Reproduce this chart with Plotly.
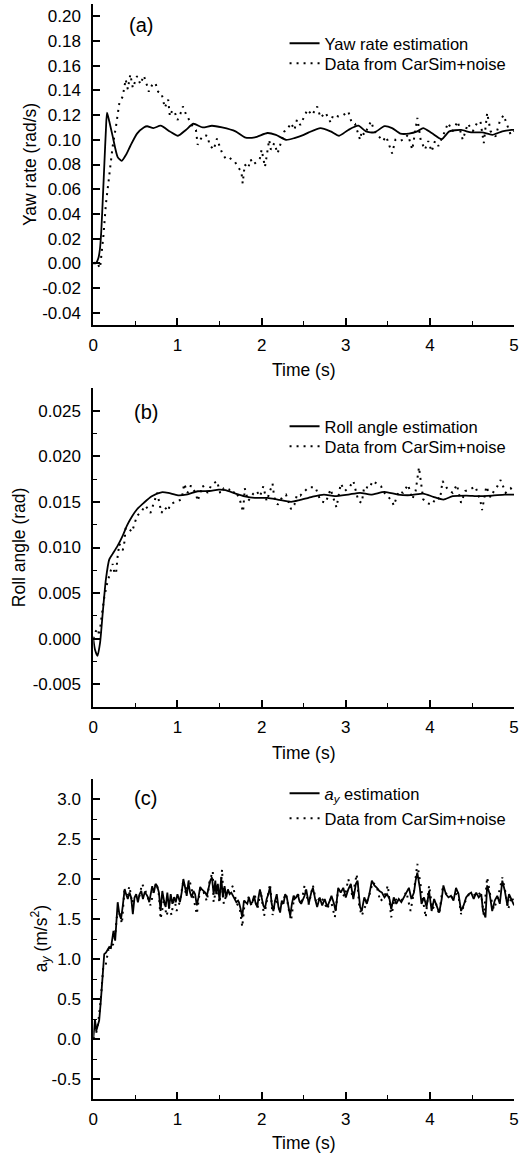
import plotly.graph_objects as go

# ---------------- data ----------------
# (a) yaw rate
yaw_est_t = [
    0.00, 0.03, 0.06, 0.08, 0.095, 0.115, 0.132, 0.15, 0.163, 0.19,
    0.23, 0.29, 0.338, 0.39, 0.44, 0.52, 0.60, 0.64, 0.715, 0.80,
    0.91, 1.006, 1.10, 1.19, 1.30, 1.41, 1.53, 1.69, 1.80, 1.92,
    2.07, 2.17, 2.29, 2.39, 2.50, 2.56, 2.70, 2.82, 2.92, 3.03,
    3.15, 3.24, 3.34, 3.46, 3.55, 3.65, 3.75, 3.85, 3.92, 4.02,
    4.14, 4.23, 4.37, 4.49, 4.62, 4.74, 4.86, 4.97, 5.00]
yaw_est = [
    0.000, 0.000, 0.004, 0.012, 0.026, 0.055, 0.081, 0.108, 0.122, 0.115,
    0.103, 0.086, 0.083, 0.088, 0.095, 0.105, 0.110, 0.111, 0.1095, 0.1114,
    0.1068, 0.1033, 0.108, 0.113, 0.110, 0.1114, 0.110, 0.1068, 0.102, 0.102,
    0.1055, 0.104, 0.100, 0.1014, 0.104, 0.106, 0.1095, 0.1068, 0.1033, 0.108,
    0.1114, 0.1068, 0.106, 0.111, 0.1095, 0.105, 0.105, 0.1068, 0.1095, 0.1055,
    0.1006, 0.1068, 0.108, 0.106, 0.106, 0.104, 0.1068, 0.108, 0.108]

yaw_noisy_t = [
    0.00, 0.04, 0.08, 0.10, 0.12, 0.15, 0.19, 0.23, 0.27, 0.31,
    0.35, 0.385, 0.41, 0.44, 0.47, 0.52, 0.56, 0.60, 0.63, 0.66,
    0.71, 0.74, 0.77, 0.81, 0.83, 0.85, 0.89, 0.91, 0.94, 0.97,
    1.00, 1.035, 1.065, 1.10, 1.14, 1.18, 1.22, 1.24, 1.28, 1.32,
    1.36, 1.38, 1.43, 1.47, 1.51, 1.53, 1.57, 1.61, 1.65, 1.68,
    1.72, 1.76, 1.775, 1.80, 1.84, 1.87, 1.90, 1.94, 1.98, 2.00,
    2.04, 2.06, 2.09, 2.11, 2.15, 2.19, 2.23, 2.27, 2.30, 2.35,
    2.39, 2.42, 2.46, 2.49, 2.545, 2.60, 2.66, 2.70, 2.76, 2.82,
    2.85, 2.91, 2.97, 3.03, 3.07, 3.11, 3.17, 3.19, 3.22, 3.26,
    3.30, 3.34, 3.40, 3.44, 3.48, 3.515, 3.55, 3.59, 3.63, 3.68,
    3.74, 3.79, 3.83, 3.85, 3.89, 3.94, 3.98, 4.02, 4.06, 4.10,
    4.16, 4.215, 4.27, 4.33, 4.39, 4.45, 4.51, 4.56, 4.60, 4.64,
    4.68, 4.72, 4.78, 4.83, 4.875, 4.92, 4.96, 5.00]
yaw_noisy = [
    0.000, 0.001, -0.004, 0.008, 0.022, 0.048, 0.070, 0.0945, 0.111, 0.130,
    0.135, 0.149, 0.141, 0.153, 0.142, 0.1516, 0.145, 0.152, 0.146, 0.139,
    0.146, 0.1455, 0.139, 0.138, 0.132, 0.126, 0.1326, 0.119, 0.124, 0.122,
    0.116, 0.121, 0.127, 0.121, 0.116, 0.111, 0.108, 0.096, 0.101, 0.104,
    0.103, 0.096, 0.092, 0.101, 0.093, 0.0895, 0.085, 0.086, 0.0837, 0.0825,
    0.078, 0.074, 0.0647, 0.080, 0.077, 0.084, 0.080, 0.082, 0.085, 0.092,
    0.078, 0.088, 0.100, 0.092, 0.0973, 0.089, 0.097, 0.1068, 0.108, 0.1136,
    0.108, 0.1163, 0.112, 0.116, 0.1245, 0.120, 0.127, 0.118, 0.122, 0.114,
    0.120, 0.119, 0.120, 0.123, 0.114, 0.113, 0.100, 0.107, 0.104, 0.1095,
    0.115, 0.107, 0.1027, 0.099, 0.1027, 0.096, 0.089, 0.100, 0.099, 0.100,
    0.104, 0.092, 0.1095, 0.1177, 0.100, 0.092, 0.099, 0.0905, 0.099, 0.095,
    0.104, 0.1136, 0.107, 0.115, 0.100, 0.113, 0.107, 0.1136, 0.115, 0.0973,
    0.1218, 0.107, 0.1027, 0.115, 0.120, 0.111, 0.104, 0.107]

# (b) roll angle
roll_est_t = [
    0.00, 0.02, 0.05, 0.08, 0.113, 0.15, 0.19, 0.23, 0.29, 0.35,
    0.40, 0.46, 0.52, 0.60, 0.695, 0.81, 0.89, 1.006, 1.12, 1.24,
    1.38, 1.49, 1.57, 1.69, 1.80, 1.92, 2.07, 2.19, 2.35, 2.45,
    2.60, 2.74, 2.87, 3.03, 3.17, 3.30, 3.46, 3.62, 3.77, 3.92,
    4.04, 4.16, 4.27, 4.43, 4.58, 4.74, 4.89, 5.00]
roll_est = [
    0.0, -0.0012, -0.0019, -0.0005, 0.0029, 0.0065, 0.0087, 0.0093, 0.0102, 0.0113,
    0.0124, 0.0134, 0.0142, 0.0149, 0.01562, 0.01606, 0.0160, 0.01573, 0.01584, 0.01617,
    0.0162, 0.01635, 0.0163, 0.01592, 0.01562, 0.01545, 0.01545, 0.01526, 0.0150, 0.01519,
    0.01556, 0.01581, 0.01563, 0.01581, 0.0160, 0.0158, 0.0161, 0.0158, 0.01574, 0.01592,
    0.01556, 0.01526, 0.01563, 0.0157, 0.01563, 0.0157, 0.0158, 0.0158]

roll_noisy_t = [
    0.00, 0.03, 0.055, 0.07, 0.10, 0.13, 0.163, 0.19, 0.23, 0.25,
    0.27, 0.29, 0.31, 0.35, 0.37, 0.385, 0.43, 0.46, 0.48, 0.52,
    0.56, 0.62, 0.68, 0.72, 0.76, 0.81, 0.85, 0.89, 0.91, 0.95,
    0.99, 1.05, 1.08, 1.12, 1.16, 1.22, 1.24, 1.30, 1.36, 1.40,
    1.44, 1.47, 1.51, 1.55, 1.61, 1.65, 1.69, 1.74, 1.78, 1.80,
    1.84, 1.90, 1.94, 1.98, 2.02, 2.06, 2.10, 2.13, 2.15, 2.19,
    2.25, 2.29, 2.35, 2.39, 2.42, 2.46, 2.49, 2.56, 2.64, 2.70,
    2.76, 2.82, 2.85, 2.89, 2.94, 2.99, 3.05, 3.09, 3.15, 3.19,
    3.22, 3.28, 3.32, 3.38, 3.42, 3.46, 3.50, 3.55, 3.57, 3.63,
    3.68, 3.74, 3.79, 3.83, 3.87, 3.90, 3.92, 3.96, 4.02, 4.08,
    4.12, 4.15, 4.21, 4.27, 4.32, 4.37, 4.42, 4.48, 4.54, 4.60,
    4.62, 4.67, 4.72, 4.76, 4.80, 4.84, 4.90, 4.96, 5.00]
roll_noisy = [
    0.0000, 0.0008, 0.0011, 0.0003, 0.0025, 0.0045, 0.0060, 0.0069, 0.0082, 0.0073,
    0.0071, 0.0091, 0.0104, 0.0097, 0.0106, 0.0122, 0.0120, 0.0117, 0.0124, 0.0135,
    0.0138, 0.0146, 0.0138, 0.0149, 0.0160, 0.0138, 0.0144, 0.0140, 0.0147, 0.0149,
    0.0150, 0.0153, 0.0170, 0.0160, 0.0168, 0.0159, 0.0151, 0.0168, 0.0160, 0.0168,
    0.0171, 0.0173, 0.0159, 0.0165, 0.0164, 0.0159, 0.0162, 0.0153, 0.0139, 0.0165,
    0.0151, 0.0159, 0.0162, 0.0156, 0.0167, 0.0151, 0.0162, 0.0170, 0.0155, 0.0147,
    0.0156, 0.0158, 0.0142, 0.0147, 0.0158, 0.0157, 0.0160, 0.0166, 0.0166, 0.0151,
    0.0149, 0.0164, 0.0155, 0.0144, 0.0170, 0.0162, 0.0167, 0.0173, 0.0151, 0.0149,
    0.0167, 0.0165, 0.0173, 0.0169, 0.0167, 0.0160, 0.0156, 0.0151, 0.0146, 0.0162,
    0.0160, 0.0169, 0.0153, 0.0162, 0.0188, 0.0170, 0.0153, 0.0149, 0.0147, 0.0155,
    0.0153, 0.0173, 0.0164, 0.0160, 0.0169, 0.0149, 0.0162, 0.0164, 0.0167, 0.0151,
    0.0141, 0.0167, 0.0155, 0.0162, 0.0167, 0.0174, 0.0160, 0.0165, 0.0160]

# (c) lateral acceleration
ay_est_t = [
    0.00, 0.02, 0.035, 0.054, 0.07, 0.09, 0.11, 0.13, 0.15, 0.17,
    0.19, 0.21, 0.23, 0.24, 0.26, 0.28, 0.29, 0.31, 0.33, 0.35,
    0.373, 0.39, 0.41, 0.43, 0.45, 0.47, 0.49, 0.51, 0.53, 0.55,
    0.57, 0.59, 0.61, 0.63, 0.65, 0.665, 0.685, 0.70, 0.72, 0.74,
    0.76, 0.78, 0.80, 0.82, 0.84, 0.86, 0.88, 0.90, 0.92, 0.94,
    0.96, 0.98, 1.00, 1.02, 1.03, 1.05, 1.07, 1.09, 1.11, 1.13,
    1.15, 1.17, 1.19, 1.21, 1.23, 1.25, 1.27, 1.29, 1.31, 1.33,
    1.35, 1.37, 1.39, 1.41, 1.43, 1.45, 1.46, 1.48, 1.50, 1.52,
    1.54, 1.56, 1.58, 1.60, 1.62, 1.64, 1.66, 1.68, 1.70, 1.72,
    1.73, 1.75, 1.77, 1.79, 1.81, 1.83, 1.85, 1.87, 1.89, 1.91,
    1.93, 1.95, 1.96, 1.98, 2.00, 2.02, 2.04, 2.06, 2.08, 2.10,
    2.12, 2.14, 2.16, 2.18, 2.20, 2.22, 2.24, 2.26, 2.28, 2.30,
    2.32, 2.34, 2.36, 2.38, 2.39, 2.41, 2.43, 2.45, 2.47, 2.51,
    2.53, 2.56, 2.59, 2.61, 2.64, 2.66, 2.69, 2.72, 2.75, 2.78,
    2.81, 2.83, 2.86, 2.88, 2.91, 2.94, 2.97, 3.00, 3.03, 3.06,
    3.09, 3.12, 3.14, 3.17, 3.19, 3.22, 3.25, 3.28, 3.31, 3.34,
    3.37, 3.40, 3.43, 3.46, 3.49, 3.52, 3.54, 3.57, 3.60, 3.63,
    3.66, 3.69, 3.72, 3.75, 3.78, 3.81, 3.83, 3.85, 3.88, 3.90,
    3.93, 3.96, 3.99, 4.02, 4.05, 4.08, 4.11, 4.14, 4.16, 4.19,
    4.22, 4.25, 4.28, 4.31, 4.34, 4.37, 4.40, 4.43, 4.46, 4.49,
    4.52, 4.55, 4.58, 4.61, 4.63, 4.66, 4.68, 4.71, 4.74, 4.77,
    4.80, 4.83, 4.86, 4.89, 4.92, 4.94, 4.97, 5.00]
ay_est = [
    0.00, 0.25, 0.10, 0.19, 0.23, 0.48, 0.77, 1.06, 1.08, 1.125,
    1.15, 1.14, 1.25, 1.35, 1.23, 1.50, 1.71, 1.56, 1.50, 1.66,
    1.875, 1.81, 1.75, 1.83, 1.77, 1.56, 1.77, 1.81, 1.71, 1.81,
    1.85, 1.75, 1.83, 1.81, 1.77, 1.71, 1.83, 1.91, 1.83, 1.94,
    1.91, 1.83, 1.60, 1.85, 1.73, 1.65, 1.83, 1.63, 1.81, 1.69,
    1.77, 1.71, 1.81, 1.73, 1.71, 1.83, 2.00, 1.90, 1.79, 1.96,
    1.83, 1.77, 1.85, 1.81, 1.67, 1.77, 1.90, 1.87, 1.85, 1.83,
    1.79, 1.90, 1.98, 2.02, 1.81, 1.98, 1.81, 1.94, 1.73, 2.02,
    1.77, 1.91, 1.77, 1.87, 1.81, 1.83, 1.79, 1.75, 1.71, 1.73,
    1.71, 1.63, 1.52, 1.73, 1.71, 1.69, 1.77, 1.69, 1.71, 1.79,
    1.69, 1.65, 1.75, 1.87, 1.77, 1.67, 1.63, 1.75, 1.81, 1.90,
    1.69, 1.60, 1.73, 1.81, 1.65, 1.58, 1.73, 1.69, 1.81, 1.77,
    1.65, 1.54, 1.69, 1.79, 1.75, 1.77, 1.81, 1.72, 1.69, 1.79,
    1.87, 1.69, 1.83, 1.89, 1.73, 1.65, 1.77, 1.67, 1.75, 1.65,
    1.73, 1.79, 1.69, 1.60, 1.89, 1.83, 1.89, 1.77, 1.87, 1.94,
    1.75, 1.94, 1.98, 1.65, 1.60, 1.77, 1.69, 1.81, 1.98, 1.92,
    1.89, 1.85, 1.83, 1.77, 1.81, 1.75, 1.62, 1.77, 1.69, 1.75,
    1.71, 1.77, 1.83, 1.89, 1.75, 1.83, 1.98, 2.08, 1.89, 1.69,
    1.77, 1.65, 1.85, 1.60, 1.75, 1.67, 1.58, 1.75, 1.92, 1.81,
    1.77, 1.79, 1.73, 1.89, 1.81, 1.60, 1.67, 1.77, 1.81, 1.83,
    1.75, 1.83, 1.77, 1.81, 1.60, 1.52, 1.92, 1.81, 1.60, 1.73,
    1.79, 1.69, 1.98, 1.85, 1.67, 1.81, 1.73, 1.67]

ay_noisy_t = [
    0.00, 0.03, 0.06, 0.09, 0.12, 0.15, 0.18, 0.21, 0.25, 0.28,
    0.31, 0.34, 0.37, 0.40, 0.43, 0.46, 0.50, 0.54, 0.58, 0.62,
    0.65, 0.68, 0.72, 0.75, 0.78, 0.80, 0.84, 0.87, 0.90, 0.93,
    0.96, 0.99, 1.03, 1.07, 1.10, 1.14, 1.18, 1.23, 1.27, 1.31,
    1.35, 1.38, 1.42, 1.43, 1.47, 1.50, 1.53, 1.55, 1.58, 1.62,
    1.66, 1.70, 1.74, 1.77, 1.80, 1.84, 1.88, 1.92, 1.95, 1.99,
    2.03, 2.07, 2.10, 2.13, 2.17, 2.21, 2.25, 2.29, 2.32, 2.35,
    2.39, 2.43, 2.47, 2.51, 2.56, 2.61, 2.65, 2.70, 2.74, 2.78,
    2.82, 2.87, 2.91, 2.95, 2.99, 3.03, 3.08, 3.13, 3.16, 3.19,
    3.24, 3.28, 3.32, 3.37, 3.41, 3.46, 3.50, 3.54, 3.58, 3.62,
    3.67, 3.72, 3.77, 3.81, 3.85, 3.88, 3.92, 3.95, 3.99, 4.03,
    4.07, 4.11, 4.15, 4.19, 4.24, 4.29, 4.33, 4.37, 4.41, 4.46,
    4.51, 4.56, 4.61, 4.64, 4.68, 4.72, 4.76, 4.81, 4.86, 4.90,
    4.93, 4.97, 5.00]
ay_noisy = [
    0.00, 0.05, 0.22, 0.50, 0.92, 0.94, 1.12, 1.16, 1.20, 1.52,
    1.58, 1.44, 1.86, 1.80, 1.91, 1.70, 1.79, 1.75, 1.94, 1.85,
    1.76, 1.67, 1.86, 1.95, 1.80, 1.50, 1.74, 1.54, 1.65, 1.55,
    1.78, 1.60, 1.72, 1.98, 1.82, 2.00, 1.82, 1.56, 1.88, 1.84,
    1.72, 1.96, 2.10, 1.71, 1.93, 1.70, 2.12, 1.69, 1.80, 1.83,
    1.92, 1.70, 1.64, 1.40, 1.72, 1.78, 1.67, 1.80, 1.63, 1.85,
    1.54, 1.78, 1.94, 1.55, 1.76, 1.62, 1.72, 1.82, 1.63, 1.48,
    1.80, 1.82, 1.68, 1.92, 1.68, 1.92, 1.70, 1.78, 1.72, 1.62,
    1.75, 1.52, 1.87, 1.82, 1.78, 2.00, 1.78, 2.06, 1.66, 1.54,
    1.70, 1.80, 1.96, 1.90, 1.72, 1.78, 1.92, 1.52, 1.76, 1.72,
    1.74, 1.84, 1.60, 1.84, 2.19, 1.96, 1.72, 1.52, 1.92, 1.62,
    1.70, 1.56, 1.88, 1.82, 1.78, 1.76, 1.86, 1.56, 1.70, 1.80,
    1.78, 1.84, 1.80, 1.55, 2.02, 1.78, 1.62, 1.78, 2.02, 1.82,
    1.62, 1.78, 1.70]

# tick values / labels
x_ticks = [0, 1, 2, 3, 4, 5]
yaw_ticks = [-0.04, -0.02, 0.00, 0.02, 0.04, 0.06, 0.08, 0.10, 0.12, 0.14, 0.16, 0.18, 0.20]
roll_ticks = [-0.005, 0.000, 0.005, 0.010, 0.015, 0.020, 0.025]
roll_minor = [-0.0075, -0.0025, 0.0025, 0.0075, 0.0125, 0.0175, 0.0225, 0.0275]
ay_ticks = [-0.5, 0.0, 0.5, 1.0, 1.5, 2.0, 2.5, 3.0]
ay_minor = [-0.75, -0.25, 0.25, 0.75, 1.25, 1.75, 2.25, 2.75, 3.25]

yaw_labels = [f"{v:.2f}" for v in yaw_ticks]
roll_labels = [f"{v:.3f}" for v in roll_ticks]
ay_labels = [f"{v:.1f}" for v in ay_ticks]

# ---------------- layout geometry (pixels) ----------------
W, H = 524, 1155
X0, X1 = 90, 519
panels = [  # (top, bottom) pixel rows of each plot area
    (4, 325),
    (388, 707),
    (779, 1099),
]

FONT = "Liberation Sans, Arial, Helvetica, sans-serif"


def px_x(p):
    return p / W


def px_y(p):
    return 1 - p / H


fig = go.Figure()

est_line = dict(color="black", width=1.8)
dot_line = dict(color="black", width=2, dash="2px,5px")

# panel (a)
fig.add_trace(go.Scatter(x=yaw_noisy_t, y=yaw_noisy, mode="lines", line=dot_line,
                         name="Data from CarSim+noise", legend="legend2",
                         xaxis="x", yaxis="y"))
fig.add_trace(go.Scatter(x=yaw_est_t, y=yaw_est, mode="lines",
                         line=dict(est_line, shape="spline", smoothing=0.6),
                         name="Yaw rate estimation", legend="legend",
                         xaxis="x", yaxis="y"))
# panel (b)
fig.add_trace(go.Scatter(x=roll_noisy_t, y=roll_noisy, mode="lines", line=dot_line,
                         name="Data from CarSim+noise", legend="legend4",
                         xaxis="x2", yaxis="y2"))
fig.add_trace(go.Scatter(x=roll_est_t, y=roll_est, mode="lines",
                         line=dict(est_line, shape="spline", smoothing=0.6),
                         name="Roll angle estimation", legend="legend3",
                         xaxis="x2", yaxis="y2"))
# panel (c)
fig.add_trace(go.Scatter(x=ay_noisy_t, y=ay_noisy, mode="lines", line=dot_line,
                         name="Data from CarSim+noise", legend="legend6",
                         xaxis="x3", yaxis="y3"))
fig.add_trace(go.Scatter(x=ay_est_t, y=ay_est, mode="lines", line=est_line,
                         name="<i>a</i><sub><i>y</i></sub> estimation", legend="legend5",
                         xaxis="x3", yaxis="y3"))

tickfont = dict(family=FONT, size=17, color="black")
axis_common = dict(showline=True, linecolor="black", linewidth=2, ticks="inside",
                   ticklen=7, tickwidth=1.6, tickcolor="black", showgrid=False,
                   zeroline=False, tickfont=tickfont, ticklabelstandoff=7)

layout = dict(width=W, height=H, margin=dict(l=0, r=0, t=0, b=0),
              paper_bgcolor="white", plot_bgcolor="white", showlegend=True,
              font=dict(family=FONT, color="black"))

x_names = ["xaxis", "xaxis2", "xaxis3"]
y_names = ["yaxis", "yaxis2", "yaxis3"]
y_specs = [
    dict(range=[-0.05, 0.21], tickmode="array", tickvals=yaw_ticks, ticktext=yaw_labels),
    dict(range=[-0.0075, 0.0275], tickmode="array", tickvals=roll_ticks, ticktext=roll_labels,
         minor=dict(tickmode="array", tickvals=roll_minor, ticks="inside", ticklen=4,
                    tickwidth=1.4, tickcolor="black")),
    dict(range=[-0.75, 3.25], tickmode="array", tickvals=ay_ticks, ticktext=ay_labels,
         minor=dict(tickmode="array", tickvals=ay_minor, ticks="inside", ticklen=4,
                    tickwidth=1.4, tickcolor="black")),
]
for i, (top, bot) in enumerate(panels):
    xa = dict(axis_common, domain=[px_x(X0), px_x(X1)], range=[0, 5],
              tickmode="array", tickvals=x_ticks, ticktext=[str(v) for v in x_ticks],
              ticklabelstandoff=4,
              minor=dict(dtick=0.5, ticks="inside", ticklen=4, tickwidth=1.4,
                         tickcolor="black"),
              anchor=["y", "y2", "y3"][i])
    ya = dict(axis_common, domain=[px_y(bot), px_y(top)], anchor=["x", "x2", "x3"][i],
              **y_specs[i])
    layout[x_names[i]] = xa
    layout[y_names[i]] = ya

# one legend per entry so each row sits where the reference puts it
legend_font = dict(family=FONT, size=16.5, color="black")
legend_rows = [43, 63, 426, 446, 793, 818]   # pixel row centres of legend entries
LEG_X = 285
legend_keys = ["legend", "legend2", "legend3", "legend4", "legend5", "legend6"]
for key, row in zip(legend_keys, legend_rows):
    layout[key] = dict(x=px_x(LEG_X), y=px_y(row - 17), xanchor="left", yanchor="top",
                       bgcolor="rgba(0,0,0,0)", borderwidth=0, font=legend_font,
                       itemwidth=30)

fig.update_layout(**layout)

annos = []
panel_labels = [("(a)", 139, 25), ("(b)", 144, 412), ("(c)", 143, 798)]
for txt, ax, ay in panel_labels:
    annos.append(dict(text=txt, x=px_x(ax), y=px_y(ay), xref="paper", yref="paper",
                      showarrow=False, xanchor="center", yanchor="middle",
                      font=dict(family=FONT, size=20, color="black")))
time_y = [370, 753, 1143]
for ty in time_y:
    annos.append(dict(text="Time (s)", x=px_x((X0 + X1) / 2), y=px_y(ty), xref="paper",
                      yref="paper", showarrow=False, xanchor="center", yanchor="middle",
                      font=dict(family=FONT, size=17.5, color="black")))
y_titles = [("Yaw rate (rad/s)", 25), ("Roll angle (rad)", 14),
            ("a<sub><i>y</i></sub> (m/s<sup>2</sup>)", 36)]
for (txt, tx), (top, bot) in zip(y_titles, panels):
    annos.append(dict(text=txt, x=px_x(tx), y=px_y((top + bot) / 2), xref="paper",
                      yref="paper", showarrow=False, xanchor="center", yanchor="middle",
                      textangle=-90, font=dict(family=FONT, size=17.5, color="black")))
fig.update_layout(annotations=annos)

fig.write_html("out.html")
